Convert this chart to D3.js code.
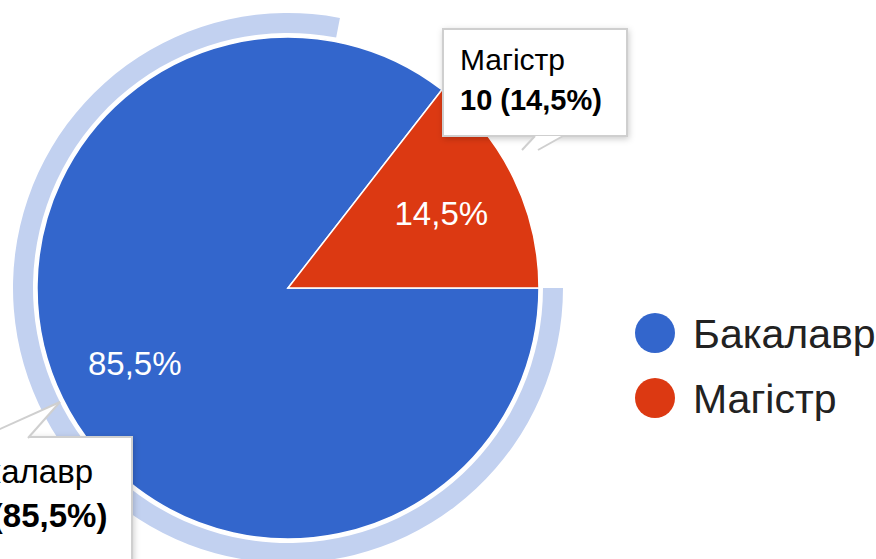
<!DOCTYPE html>
<html>
<head>
<meta charset="utf-8">
<script src="https://cdn.jsdelivr.net/npm/d3@7"></script>
<style>
  body { margin: 0; background: #fff; }
  svg { display: block; font-family: Arial, "Liberation Sans", sans-serif; }
</style>
</head>
<body>
<div id="chart"></div>
<script>
var categories = ["Бакалавр", "Магістр"];
var counts = [59, 10];
var colors = ["#3366cc", "#dc3912"];

var width = 876, height = 559;
var cx = 288, cy = 288, radius = 251;

var data = categories.map((c, i) => ({ name: c, value: counts[i], color: colors[i] }));
var total = d3.sum(counts);
var pct = v => (v / total * 100).toFixed(1).replace(".", ",") + "%";

var svg = d3.select("#chart")
    .append("svg")
    .attr("width", width)
    .attr("height", height);

var defs = svg.append("defs");
defs.append("filter")
    .attr("id", "shadow")
    .attr("x", "-20%").attr("y", "-20%").attr("width", "140%").attr("height", "140%")
    .append("feDropShadow")
    .attr("dx", 1).attr("dy", 2)
    .attr("stdDeviation", 3)
    .attr("flood-opacity", 0.2);

// google charts style: first slice starts at 3 o'clock
var pie = d3.pie()
    .value(d => d.value)
    .sort(null)
    .startAngle(Math.PI / 2)
    .endAngle(Math.PI / 2 + 2 * Math.PI);
var arcs = pie(data);

var arc = d3.arc().innerRadius(0).outerRadius(radius);
var labelArc = d3.arc().innerRadius(radius * 0.68).outerRadius(radius * 0.68);
var ring = d3.arc().innerRadius(radius + 4).outerRadius(radius + 24);

var g = svg.append("g")
    .attr("transform", "translate(" + cx + "," + cy + ")");

// selection ring round the first slice (cut near the top like in the screenshot)
g.append("path")
    .attr("d", ring({ startAngle: arcs[0].startAngle, endAngle: 2 * Math.PI + 0.19 }))
    .attr("fill", "#c2d1f0");

g.selectAll(".slice")
    .data(arcs)
    .enter().append("path")
    .attr("class", "slice")
    .attr("d", arc)
    .attr("fill", d => d.data.color)
    .attr("stroke", "#fff")
    .attr("stroke-width", 1.5);

g.selectAll(".lbl")
    .data(arcs)
    .enter().append("text")
    .attr("class", "lbl")
    .attr("transform", d => "translate(" + labelArc.centroid(d) + ")")
    .attr("text-anchor", "middle")
    .attr("dy", "0.36em")
    .attr("font-size", 33)
    .attr("fill", "#fff")
    .text(d => pct(d.data.value));

// legend
var legend = svg.append("g")
    .attr("transform", "translate(655,333)");

var item = legend.selectAll(".item")
    .data(data)
    .enter().append("g")
    .attr("class", "item")
    .attr("transform", (d, i) => "translate(0," + i * 65 + ")");

item.append("circle")
    .attr("r", 20)
    .attr("fill", d => d.color);

item.append("text")
    .attr("x", 38)
    .attr("dy", "0.36em")
    .attr("font-size", 41)
    .attr("fill", "#222")
    .text(d => d.name);

// tooltips
function tooltip(d, box, tail, base, sizes) {
    var t = svg.append("g");
    t.append("rect")
        .attr("x", box[0]).attr("y", box[1])
        .attr("width", box[2]).attr("height", box[3])
        .attr("fill", "#fff")
        .attr("stroke", "#cfcfcf")
        .attr("stroke-width", 2)
        .attr("filter", "url(#shadow)");
    t.append("polygon")
        .attr("points", tail.map(p => p.join(",")).join(" "))
        .attr("fill", "#fff");
    t.append("polyline")
        .attr("points", [tail[0], tail[1]].map(p => p.join(",")).join(" "))
        .attr("fill", "none").attr("stroke", "#cfcfcf").attr("stroke-width", 2);
    t.append("polyline")
        .attr("points", [tail[2], tail[3]].map(p => p.join(",")).join(" "))
        .attr("fill", "none").attr("stroke", "#cfcfcf").attr("stroke-width", 2);
    t.append("text")
        .attr("x", box[0] + 17).attr("y", base[0])
        .attr("font-size", sizes[0]).attr("fill", "#000")
        .text(d.name);
    t.append("text")
        .attr("x", box[0] + 17).attr("y", base[1])
        .attr("font-size", sizes[1]).attr("font-weight", "bold").attr("fill", "#000")
        .text(d.value + " (" + pct(d.value) + ")");
}

tooltip(data[1], [443, 29, 184, 107], [[535, 136], [522, 150], [538, 150], [563, 136]], [70, 110], [30, 29]);
tooltip(data[0], [-71, 437, 203, 140], [[-20, 438], [60, 402], [60, 402], [28, 438]], [483, 527], [33, 33]);
</script>
</body>
</html>
